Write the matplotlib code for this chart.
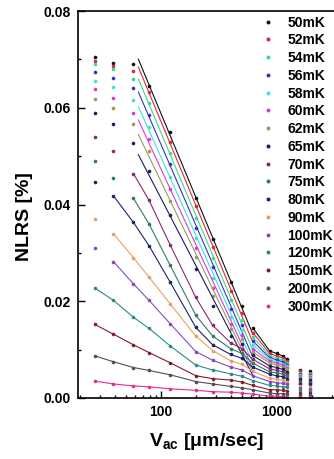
import matplotlib
matplotlib.use("Agg")
import matplotlib.pyplot as plt
import numpy as np
from matplotlib.ticker import MultipleLocator, FuncFormatter

plt.rcParams['font.family'] = ['Liberation Sans', 'DejaVu Sans']
plt.rcParams['font.weight'] = 'bold'
plt.rcParams['mathtext.fontset'] = 'custom'
plt.rcParams['mathtext.bf'] = 'Liberation Sans:bold'
plt.rcParams['mathtext.rm'] = 'Liberation Sans:bold'

# velocities (um/sec)
v_ac = [27, 39, 58, 79, 120, 200, 280, 400, 500, 620, 870, 1000, 1120, 1230, 1580, 1920]

temps = ['50mK', '52mK', '54mK', '56mK', '58mK', '60mK', '62mK', '65mK', '70mK',
         '75mK', '80mK', '90mK', '100mK', '120mK', '150mK', '200mK', '300mK']

nlrs_50 = [0.0704, 0.0693, 0.0690, 0.0645, 0.0550, 0.0413, 0.0328, 0.0240, 0.0190, 0.0145, 0.0097, 0.0092, 0.0087, 0.0080, 0.0058, 0.0055]
nlrs_52 = [0.0697, 0.0686, 0.0676, 0.0632, 0.0529, 0.0396, 0.0312, 0.0222, 0.0175, 0.0135, 0.0092, 0.0087, 0.0083, 0.0076, 0.0055, 0.0052]
nlrs_54 = [0.0690, 0.0680, 0.0660, 0.0610, 0.0507, 0.0373, 0.0290, 0.0202, 0.0162, 0.0126, 0.0087, 0.0083, 0.0078, 0.0072, 0.0052, 0.0050]
nlrs_56 = [0.0673, 0.0662, 0.0640, 0.0586, 0.0483, 0.0352, 0.0270, 0.0184, 0.0150, 0.0118, 0.0083, 0.0079, 0.0075, 0.0069, 0.0050, 0.0047]
nlrs_58 = [0.0656, 0.0643, 0.0617, 0.0560, 0.0457, 0.0330, 0.0248, 0.0168, 0.0140, 0.0110, 0.0080, 0.0075, 0.0071, 0.0066, 0.0048, 0.0045]
nlrs_60 = [0.0638, 0.0621, 0.0590, 0.0536, 0.0433, 0.0310, 0.0228, 0.0154, 0.0130, 0.0102, 0.0076, 0.0072, 0.0068, 0.0062, 0.0045, 0.0043]
nlrs_62 = [0.0619, 0.0599, 0.0566, 0.0510, 0.0407, 0.0291, 0.0210, 0.0142, 0.0121, 0.0095, 0.0072, 0.0068, 0.0064, 0.0059, 0.0043, 0.0041]
nlrs_65 = [0.0589, 0.0566, 0.0527, 0.0470, 0.0378, 0.0266, 0.0190, 0.0128, 0.0112, 0.0088, 0.0066, 0.0063, 0.0059, 0.0054, 0.0039, 0.0037]
nlrs_70 = [0.0540, 0.0511, 0.0464, 0.0409, 0.0317, 0.0208, 0.0150, 0.0114, 0.0102, 0.0080, 0.0060, 0.0057, 0.0054, 0.0050, 0.0036, 0.0034]
nlrs_75 = [0.0490, 0.0455, 0.0413, 0.0360, 0.0275, 0.0171, 0.0128, 0.0102, 0.0092, 0.0072, 0.0054, 0.0052, 0.0049, 0.0045, 0.0032, 0.0031]
nlrs_80 = [0.0447, 0.0418, 0.0363, 0.0315, 0.0240, 0.0146, 0.0110, 0.0090, 0.0082, 0.0064, 0.0049, 0.0046, 0.0044, 0.0040, 0.0029, 0.0028]
nlrs_90 = [0.0371, 0.0340, 0.0290, 0.0250, 0.0195, 0.0128, 0.0098, 0.0077, 0.0070, 0.0055, 0.0041, 0.0039, 0.0037, 0.0034, 0.0024, 0.0023]
nlrs_100 = [0.0311, 0.0282, 0.0236, 0.0202, 0.0154, 0.0096, 0.0078, 0.0064, 0.0058, 0.0046, 0.0034, 0.0032, 0.0030, 0.0028, 0.0020, 0.0019]
nlrs_120 = [0.0227, 0.0202, 0.0167, 0.0144, 0.0108, 0.0068, 0.0058, 0.0050, 0.0045, 0.0036, 0.0026, 0.0025, 0.0023, 0.0022, 0.0016, 0.0015]
nlrs_150 = [0.0152, 0.0132, 0.0110, 0.0094, 0.0073, 0.0046, 0.0040, 0.0037, 0.0033, 0.0026, 0.0017, 0.0017, 0.0016, 0.0014, 0.0010, 0.0010]
nlrs_200 = [0.0087, 0.0075, 0.0063, 0.0057, 0.0048, 0.0034, 0.0029, 0.0024, 0.0021, 0.0017, 0.0010, 0.0009, 0.0009, 0.0008, 0.0006, 0.0006]
nlrs_300 = [0.0035, 0.0029, 0.0025, 0.0023, 0.0019, 0.0016, 0.0013, 0.0012, 0.0010, 0.0008, 0.0004, 0.0004, 0.0003, 0.0003, 0.0002, 0.0002]

series = [nlrs_50, nlrs_52, nlrs_54, nlrs_56, nlrs_58, nlrs_60, nlrs_62, nlrs_65, nlrs_70,
          nlrs_75, nlrs_80, nlrs_90, nlrs_100, nlrs_120, nlrs_150, nlrs_200, nlrs_300]

colors = ['#111111', '#d8283c', '#3fd889', '#3333cc', '#3fe0e0', '#d63cd6', '#9a9a5a', '#1c1c5e',
          '#862a6c', '#2e7d62', '#20206e', '#e6a062', '#8a48c0', '#2e8a8a', '#8a1a2a', '#505050', '#e0308c']

# first point of each fitted line (low temperatures use a straight fit on the steep part)
line_start = [3, 3, 3, 3, 3, 3, 3, 3, 2, 2, 1, 1, 1, 0, 0, 0, 0]
fit_low = 8
line_end = 14

xticks_major = [100, 1000]
xtick_labels = ['100', '1000']
xticks_minor = [20, 30, 40, 50, 60, 70, 80, 90, 200, 300, 400, 500, 600, 700, 800, 900, 2000, 3000, 4000]

fig = plt.figure(figsize=(3.34, 4.59), dpi=100)
ax = fig.add_axes([0.2335, 0.1329, 0.838, 0.8431])

for i, (y, c, s, lab) in enumerate(zip(series, colors, line_start, temps)):
    if i < fit_low:
        k, b = np.polyfit(np.log10(v_ac[s:9]), y[s:9], 1)
        xf = np.array([64.0, v_ac[9]])
        ax.plot(xf, k * np.log10(xf) + b, '-', color=c, lw=0.8)
        ax.plot(v_ac[9:line_end], y[9:line_end], '-', color=c, lw=0.8)
    else:
        ax.plot(v_ac[s:line_end], y[s:line_end], '-', color=c, lw=0.8)
    ax.plot(v_ac, y, 'o', color=c, ms=2.6, mec='none', label=lab)

ax.set_xscale('log')
ax.set_xlim(19.3, 5000)
ax.set_ylim(0, 0.08)

ax.set_xticks(xticks_major)
ax.set_xticklabels(xtick_labels)
ax.set_xticks(xticks_minor, minor=True)
ax.set_xticklabels([], minor=True)

ax.yaxis.set_major_locator(MultipleLocator(0.02))
ax.yaxis.set_minor_locator(MultipleLocator(0.01))
ax.yaxis.set_major_formatter(FuncFormatter(lambda v, p: '%.2f' % v))

ax.tick_params(which='both', direction='in', top=False, right=False, labelsize=10, width=1.0)
ax.tick_params(which='major', length=5, pad=5)
ax.tick_params(which='minor', length=2.5)
for sp in ax.spines.values():
    sp.set_linewidth(1.2)

ax.set_ylabel('NLRS [%]', fontsize=14, fontweight='bold')
ax.yaxis.set_label_coords(-0.161, 0.468)
ax.set_xlabel(r'$\mathbf{V_{ac}}$ [μm/sec]', fontsize=14, fontweight='bold')
ax.xaxis.set_label_coords(0.46, -0.085)

ax.legend(loc='upper left', bbox_to_anchor=(0.781, 0.966), bbox_transform=fig.transFigure,
          frameon=False, prop={'weight': 'bold', 'size': 10}, handlelength=1.0,
          handletextpad=0.9, labelspacing=0.27, borderpad=0, borderaxespad=0, numpoints=1,
          markerscale=1.1)

fig.savefig('out.png', dpi=100)
